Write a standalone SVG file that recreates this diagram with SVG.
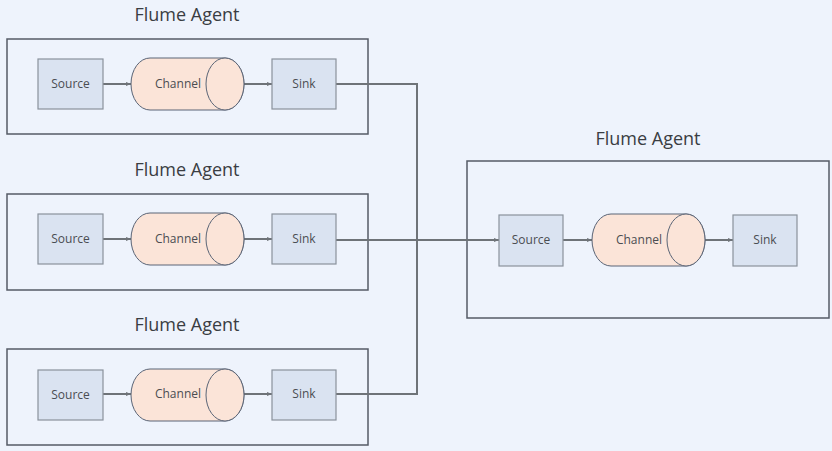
<svg xmlns="http://www.w3.org/2000/svg" width="832" height="451" viewBox="0 0 832 451">
<defs>
<style>
.bg{fill:#eef3fc}
.agent{fill:#eef3fc;stroke:#555b66;stroke-width:1.5}
.title{font-family:"Open Sans","Noto Sans",sans-serif;font-size:18px;fill:#3a3d42;text-anchor:middle}
.box{fill:#dae3f1;stroke:#8a929c;stroke-width:1.2}
.cyl{fill:#fbe4d8;stroke:#5a6476;stroke-width:1}
.lbl{font-family:"Open Sans","Noto Sans",sans-serif;font-size:12px;fill:#4a4d52;text-anchor:middle}
.conn{fill:none;stroke:#6e7378;stroke-width:2}
</style>
<marker id="arr" viewBox="0 0 10 10" refX="10" refY="5" markerWidth="5" markerHeight="5" orient="auto" markerUnits="userSpaceOnUse">
<path d="M0,1 L10,5 L0,9 z" fill="#6e7378"/>
</marker>
<g id="cylinder">
<path class="cyl" d="M19,0 H94 A19,26 0 0 1 94,52 H19 A19,26 0 0 1 19,0 Z"/>
<ellipse class="cyl" cx="94" cy="26" rx="19" ry="26"/>
</g>
</defs>
<rect class="bg" x="0" y="0" width="832" height="451"/>

<g id="agent1">
<text class="title" x="187" y="21">Flume Agent</text>
<rect class="agent" x="7" y="39" width="361" height="95"/>
</g>
<g id="agent2">
<text class="title" x="187" y="176">Flume Agent</text>
<rect class="agent" x="7" y="194" width="361" height="96"/>
</g>
<g id="agent3">
<text class="title" x="187" y="331">Flume Agent</text>
<rect class="agent" x="7" y="349" width="361" height="96"/>
</g>
<g id="agent4">
<text class="title" x="648" y="145">Flume Agent</text>
<rect class="agent" x="467" y="161" width="362" height="157"/>
</g>

<g id="connectors">
<line class="conn" x1="103" y1="84" x2="131" y2="84" marker-end="url(#arr)"/>
<line class="conn" x1="244" y1="84" x2="272" y2="84" marker-end="url(#arr)"/>
<line class="conn" x1="103" y1="239" x2="131" y2="239" marker-end="url(#arr)"/>
<line class="conn" x1="244" y1="239" x2="272" y2="239" marker-end="url(#arr)"/>
<line class="conn" x1="103" y1="394" x2="131" y2="394" marker-end="url(#arr)"/>
<line class="conn" x1="244" y1="394" x2="272" y2="394" marker-end="url(#arr)"/>
<line class="conn" x1="563" y1="240" x2="592" y2="240" marker-end="url(#arr)"/>
<line class="conn" x1="705" y1="240" x2="733" y2="240" marker-end="url(#arr)"/>
<polyline class="conn" points="336,84 417,84 417,240"/>
<polyline class="conn" points="336,394 417,394 417,240"/>
<line class="conn" x1="336" y1="240" x2="499" y2="240" marker-end="url(#arr)"/>
</g>

<g id="source1"><rect class="box" x="38" y="59" width="65" height="50"/><text class="lbl" x="70.5" y="88">Source</text></g>
<g id="channel1"><use href="#cylinder" x="131" y="58"/><text class="lbl" x="178" y="88">Channel</text></g>
<g id="sink1"><rect class="box" x="272" y="59" width="64" height="50"/><text class="lbl" x="304" y="88">Sink</text></g>

<g id="source2"><rect class="box" x="38" y="214" width="65" height="50"/><text class="lbl" x="70.5" y="243">Source</text></g>
<g id="channel2"><use href="#cylinder" x="131" y="213"/><text class="lbl" x="178" y="243">Channel</text></g>
<g id="sink2"><rect class="box" x="272" y="214" width="64" height="50"/><text class="lbl" x="304" y="243">Sink</text></g>

<g id="source3"><rect class="box" x="38" y="370" width="65" height="50"/><text class="lbl" x="70.5" y="399">Source</text></g>
<g id="channel3"><use href="#cylinder" x="131" y="369"/><text class="lbl" x="178" y="398">Channel</text></g>
<g id="sink3"><rect class="box" x="272" y="370" width="64" height="50"/><text class="lbl" x="304" y="398">Sink</text></g>

<g id="source4"><rect class="box" x="499" y="215" width="64" height="51"/><text class="lbl" x="531" y="244">Source</text></g>
<g id="channel4"><use href="#cylinder" x="592" y="214"/><text class="lbl" x="639" y="244">Channel</text></g>
<g id="sink4"><rect class="box" x="733" y="215" width="64" height="51"/><text class="lbl" x="765" y="244">Sink</text></g>
</svg>
